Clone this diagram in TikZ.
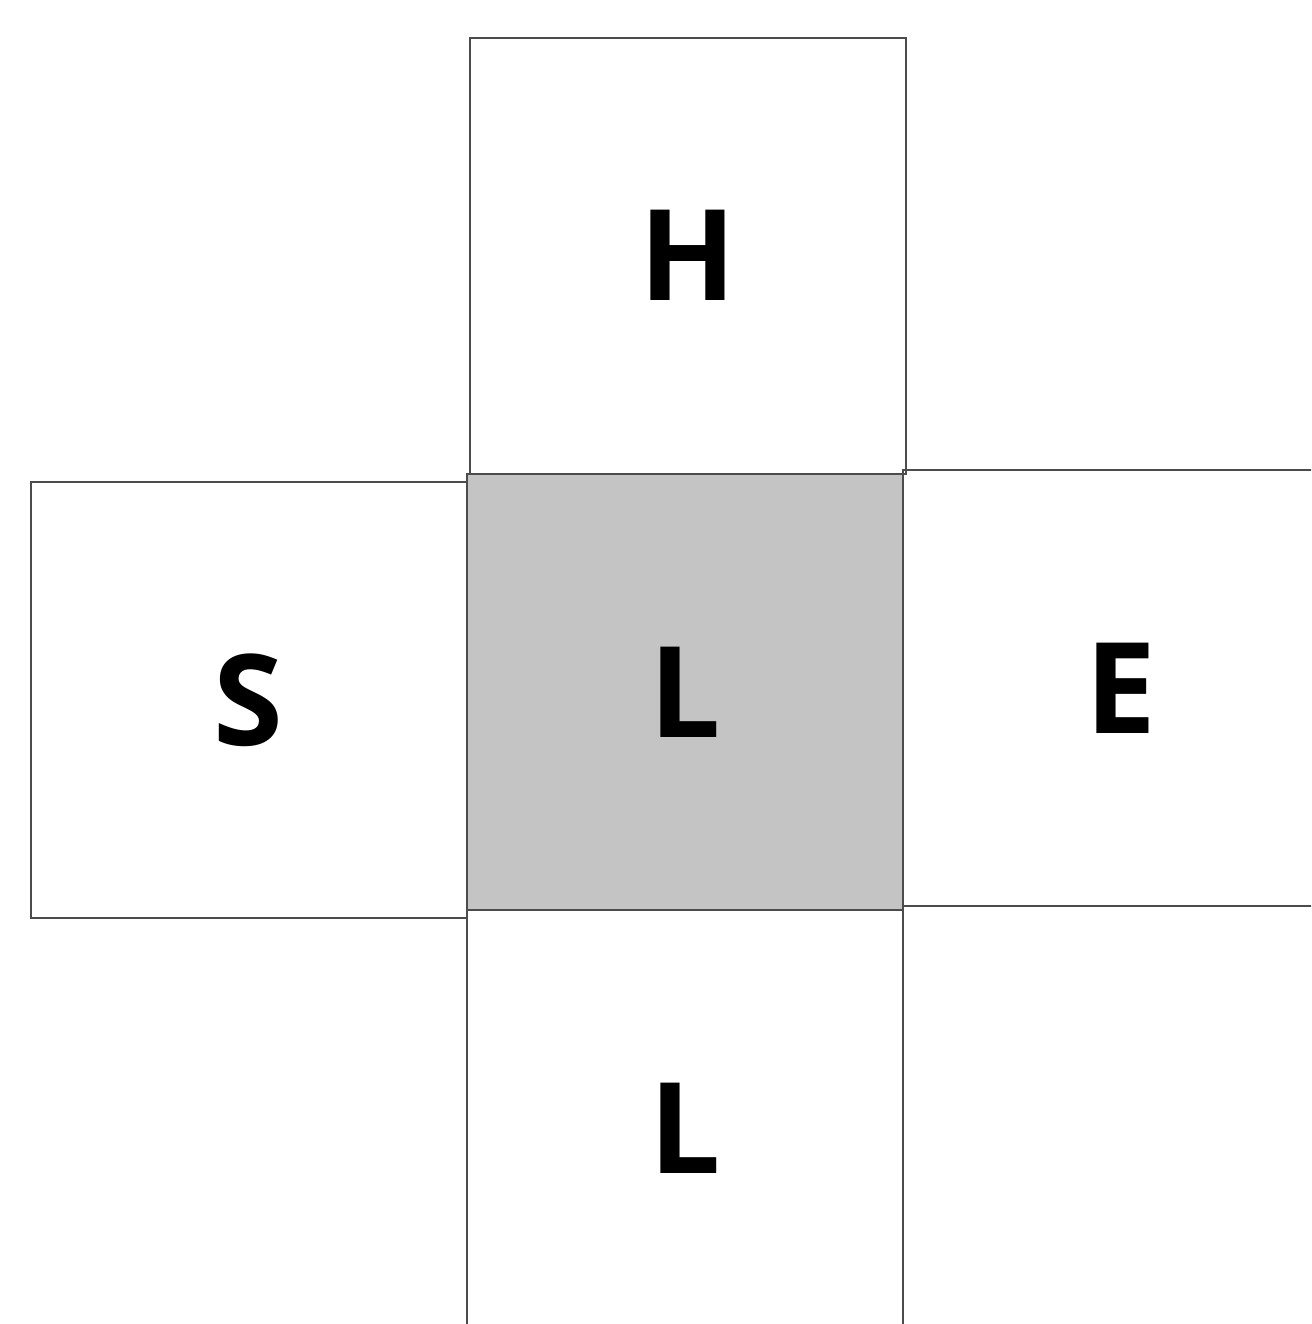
\documentclass[tikz,border=0pt]{standalone}
\usepackage{fontspec}
\setmainfont{Open Sans}
\usetikzlibrary{positioning}

\begin{document}
\begin{tikzpicture}[x=0.01cm, y=-0.01cm, node distance=0pt]
    % Stile dei quadrati
    \tikzstyle{cell} = [draw=black!70, line width=0.5pt, rectangle, minimum size=4.36cm, inner sep=0pt, outer sep=0pt, font=\fontsize{36}{40}\selectfont\bfseries]
    \tikzstyle{cur} = [cell, fill=black!23]

    \useasboundingbox (0,0) rectangle (1311,1324);
    \clip (0,0) rectangle (1311,1324);

    % Quadrati
    \node [cur] (mid) at (685,692) {L};
    \node [cell, above=of mid, xshift=0.03cm] (top) {H};
    \node [cell, left=of mid, yshift=-0.08cm] (west) {S};
    \node [cell, right=of mid, yshift=0.04cm] (east) {E};
    \node [cell, below=of mid] (bot) {L};
\end{tikzpicture}
\end{document}
